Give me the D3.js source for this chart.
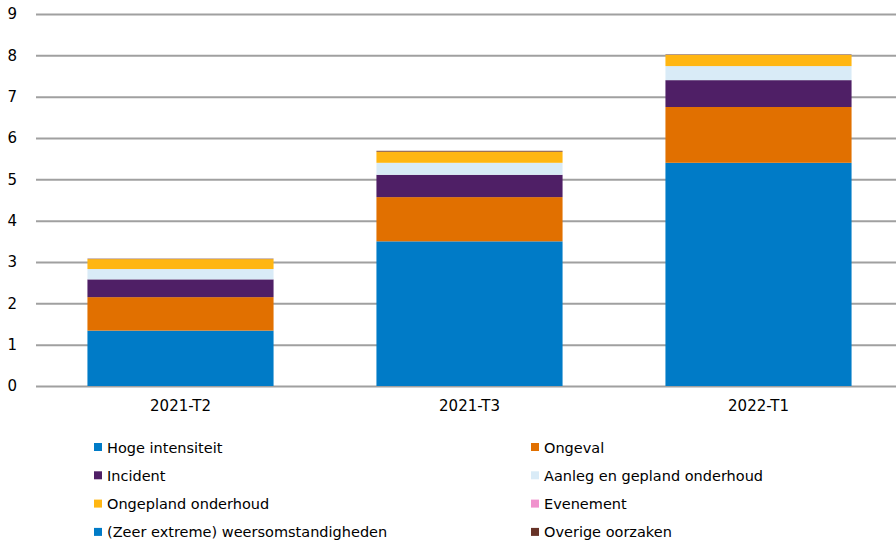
<!DOCTYPE html>
<html lang="nl">
<head>
<meta charset="utf-8">
<title>Oorzaken per kwartaal</title>
<script src="https://cdn.jsdelivr.net/npm/d3@7"></script>
<style>
  body { margin: 0; background: #fff; }
  text { font-family: "DejaVu Sans", Verdana, sans-serif; fill: #000; }
  .grid line { stroke: #a0a0a0; stroke-width: 2; }
  .grid path { display: none; }
</style>
</head>
<body>
<script>
// data
const periods = ["2021-T2", "2021-T3", "2022-T1"];
const series = ["Hoge intensiteit", "Ongeval", "Incident", "Aanleg en gepland onderhoud",
                "Ongepland onderhoud", "Evenement", "(Zeer extreme) weersomstandigheden", "Overige oorzaken"];
const hoge      = [1.34, 3.50, 5.40];
const ongeval   = [0.81, 1.07, 1.35];
const incident  = [0.43, 0.54, 0.65];
const aanleg    = [0.25, 0.29, 0.34];
const ongepland = [0.24, 0.27, 0.27];
const evenement = [0, 0, 0];
const weer      = [0, 0, 0];
const overige   = [0.01, 0.02, 0.01];
const yTicks = [0, 1, 2, 3, 4, 5, 6, 7, 8, 9];
const colors = ["#007bc7", "#e17000", "#4f1f66", "#d9ebf7", "#ffb612", "#f092cd", "#007bc7", "#673327"];

const w = 896;
const h = 544;

const values = [hoge, ongeval, incident, aanleg, ongepland, evenement, weer, overige];
const table = periods.map((p, i) => {
    const row = { period: p };
    series.forEach((s, j) => { row[s] = values[j][i]; });
    return row;
});

const stacked = d3.stack().keys(series)(table);

const svg = d3.select("body")
              .append("svg")
              .attr("width", w)
              .attr("height", h);

const xScale = d3.scaleBand()
                 .domain(periods)
                 .range([36, 903])
                 .paddingInner(0.356)
                 .paddingOuter(0.178);

const yScale = d3.scaleLinear()
                 .domain([0, 9])
                 .range([386, 14]);

// gridlines + y labels
const yAxis = d3.axisLeft(yScale)
                .tickValues(yTicks)
                .tickSize(-(w - 36))
                .tickPadding(16);

svg.append("g")
   .attr("class", "grid")
   .attr("transform", "translate(36,0)")
   .call(yAxis)
   .call(g => g.selectAll("text").style("font-size", "15px").attr("dx", "-0.2em"));

const color = d3.scaleOrdinal().domain(series).range(colors);

svg.append("g")
   .selectAll("g")
   .data(stacked)
   .enter()
   .append("g")
   .attr("fill", d => color(d.key))
   .selectAll("rect")
   .data(d => d)
   .enter()
   .append("rect")
   .attr("x", d => xScale(d.data.period))
   .attr("y", d => yScale(d[1]))
   .attr("width", xScale.bandwidth())
   .attr("height", d => yScale(d[0]) - yScale(d[1]));

// x labels
const xAxis = d3.axisBottom(xScale).tickSize(0).tickPadding(14);
svg.append("g")
   .attr("transform", "translate(0,386)")
   .call(xAxis)
   .call(g => g.select(".domain").remove())
   .call(g => g.selectAll("text").style("font-size", "15px"));

// legend, two columns
const legend = svg.append("g")
                  .selectAll("g")
                  .data(series)
                  .enter()
                  .append("g")
                  .attr("transform", (d, i) => "translate(" + (i % 2 === 0 ? 94 : 531) + "," + (443 + Math.floor(i / 2) * 28.3) + ")");

legend.append("rect")
      .attr("width", 8)
      .attr("height", 8)
      .attr("fill", d => color(d));

legend.append("text")
      .attr("x", 13)
      .attr("y", 9.5)
      .style("font-size", "14.5px")
      .text(d => d);
</script>
</body>
</html>
